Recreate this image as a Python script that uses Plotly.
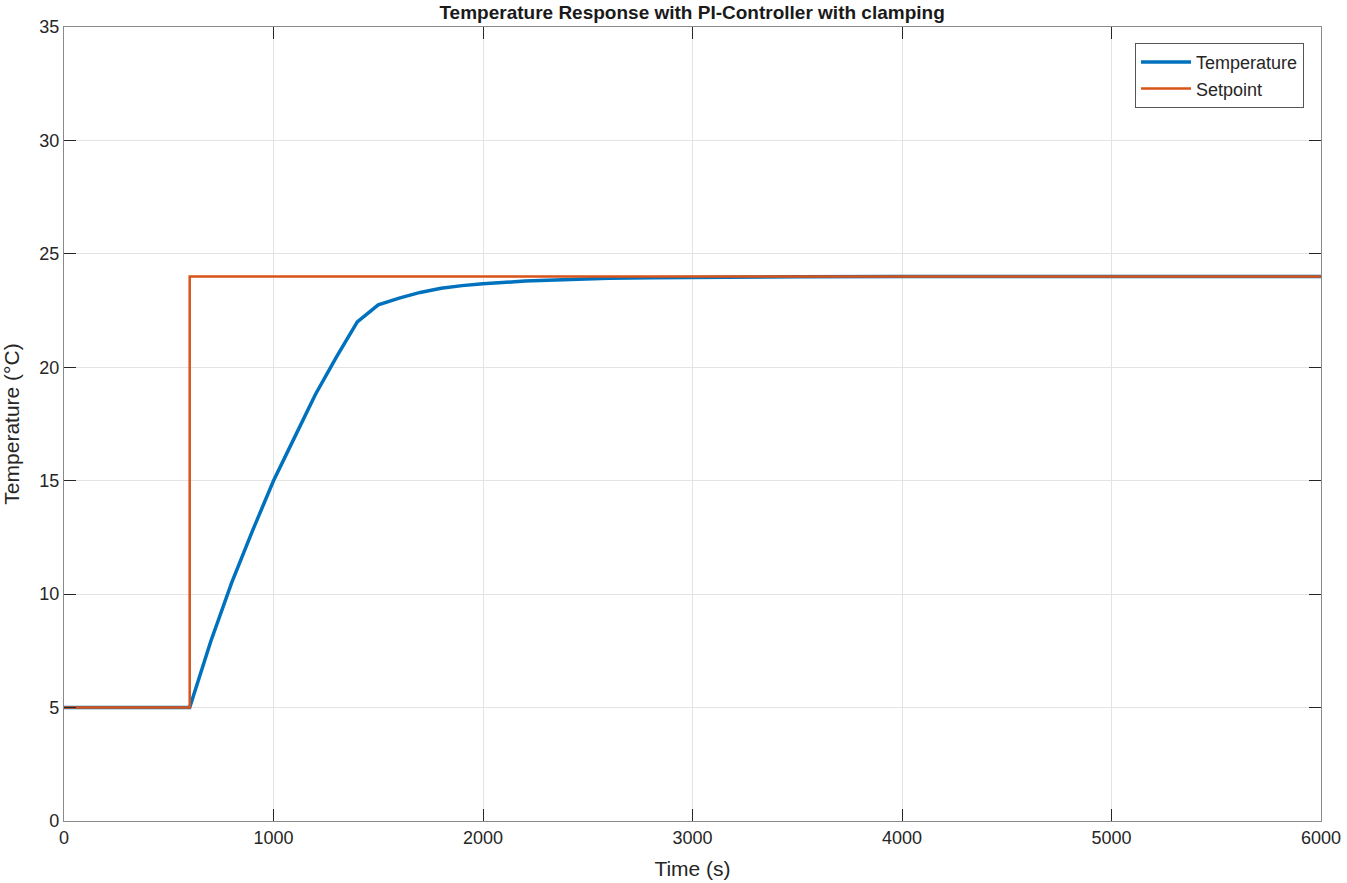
import plotly.graph_objects as go

time_s = [0, 600, 700, 800, 900, 1000, 1100, 1200, 1300, 1400, 1500, 1600, 1700, 1800,
          1900, 2000, 2200, 2400, 2600, 2800, 3000, 3500, 4000, 5000, 6000]
temperature = [5.0, 5.0, 7.9, 10.5, 12.8, 15.0, 16.9, 18.8, 20.45, 22.0, 22.75, 23.05, 23.3,
               23.48, 23.6, 23.68, 23.8, 23.87, 23.92, 23.95, 23.97, 23.99, 24.0, 24.0, 24.0]
sp_time = [0, 600, 600, 6000]
setpoint = [5, 5, 24, 24]

x_ticks = [0, 1000, 2000, 3000, 4000, 5000, 6000]
y_ticks = [0, 5, 10, 15, 20, 25, 30, 35]

font = "Liberation Sans, Arial, sans-serif"

fig = go.Figure()
fig.add_trace(go.Scatter(x=time_s, y=temperature, mode="lines", name="Temperature",
                         line=dict(color="#0072BD", width=3.5)))
fig.add_trace(go.Scatter(x=sp_time, y=setpoint, mode="lines", name="Setpoint",
                         line=dict(color="#D95319", width=2.5)))

axis_common = dict(showgrid=True, gridcolor="#e3e3e3", gridwidth=1,
                   showline=True, linecolor="#8a8a8a", linewidth=1.3, mirror="ticks",
                   ticks="inside", ticklen=12, tickcolor="#262626", tickwidth=1,
                   zeroline=False, automargin=False,
                   tickfont=dict(family=font, size=18, color="#262626"))

fig.update_layout(
    width=1347, height=883,
    margin=dict(l=64, r=26, t=27, b=62, autoexpand=False),
    paper_bgcolor="white", plot_bgcolor="white",
    title=dict(text="<b>Temperature Response with PI-Controller with clamping</b>",
               x=0.5138, xanchor="center", xref="container",
               y=0.986, yanchor="middle", yref="container", automargin=False,
               font=dict(family=font, size=19, color="#1a1a1a")),
    xaxis=dict(range=[0, 6000], tickvals=x_ticks,
               title=dict(text="Time (s)", font=dict(family=font, size=21, color="#262626"), standoff=14),
               **axis_common),
    yaxis=dict(range=[0, 35], tickvals=y_ticks,
               title=dict(text="Temperature (°C)", font=dict(family=font, size=21, color="#262626"), standoff=14),
               **axis_common),
    legend=dict(x=0.9865, xanchor="right", y=0.98, yanchor="top",
                bgcolor="white", bordercolor="#555555", borderwidth=1,
                font=dict(family=font, size=18, color="#262626"),
                tracegroupgap=0, itemwidth=50),
    showlegend=True,
)

fig.write_html("out.html", config={"displayModeBar": False},
               post_script="document.body.style.margin='0';document.body.style.overflow='hidden';")
